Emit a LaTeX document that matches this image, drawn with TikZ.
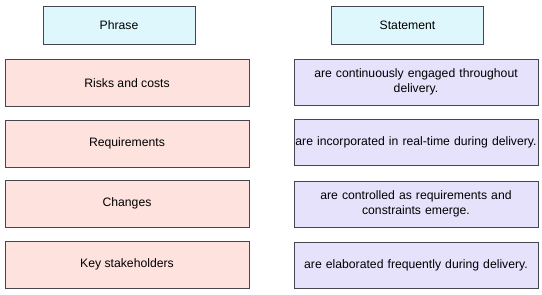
\documentclass[tikz,border=0pt]{standalone}
\usepackage{fontspec}
\setmainfont{Liberation Sans}
\usepackage{xcolor}
\usetikzlibrary{positioning}
\definecolor{headfill}{RGB}{222,247,252}
\definecolor{phrasefill}{RGB}{253,226,222}
\definecolor{stmtfill}{RGB}{230,226,252}
\definecolor{edge}{RGB}{70,70,80}
\begin{document}
\begin{tikzpicture}[
  x=1pt, y=-1pt,
  head/.style={rectangle, draw=edge, fill=headfill, minimum width=152pt,
    minimum height=38pt, font=\fontsize{12.2}{15}\selectfont},
  pbox/.style={rectangle, draw=edge, fill=phrasefill, minimum width=244pt,
    minimum height=47pt, align=center, font=\fontsize{12.2}{15}\selectfont},
  sbox/.style={rectangle, draw=edge, fill=stmtfill, minimum width=244pt,
    minimum height=46pt, text width=242pt, inner xsep=1pt, align=center,
    font=\fontsize{12.2}{15}\selectfont},
  node distance=13pt
]
\useasboundingbox (0,0) rectangle (542,295);
% column headers
\node[head] (phrase) at (119,25) {Phrase};
\node[head] (statement) at (407.5,25) {Statement};
% phrases
\node[pbox] (risks) at (127,83) {Risks and costs};
\node[pbox, below=of risks] (reqs) {Requirements};
\node[pbox, below=of reqs] (changes) {Changes};
\node[pbox, below=of changes] (keys) {Key stakeholders};
% statements
\node[sbox] (engaged) at (416,82) {are continuously engaged throughout\\delivery.};
\node[sbox, below=14pt of engaged] (incorp) {are incorporated in real-time during delivery.};
\node[sbox, below=15pt of incorp] (controlled) {are controlled as requirements and\\constraints emerge.};
\node[sbox, below=15pt of controlled] (elab) {are elaborated frequently during delivery.};
\end{tikzpicture}
\end{document}
